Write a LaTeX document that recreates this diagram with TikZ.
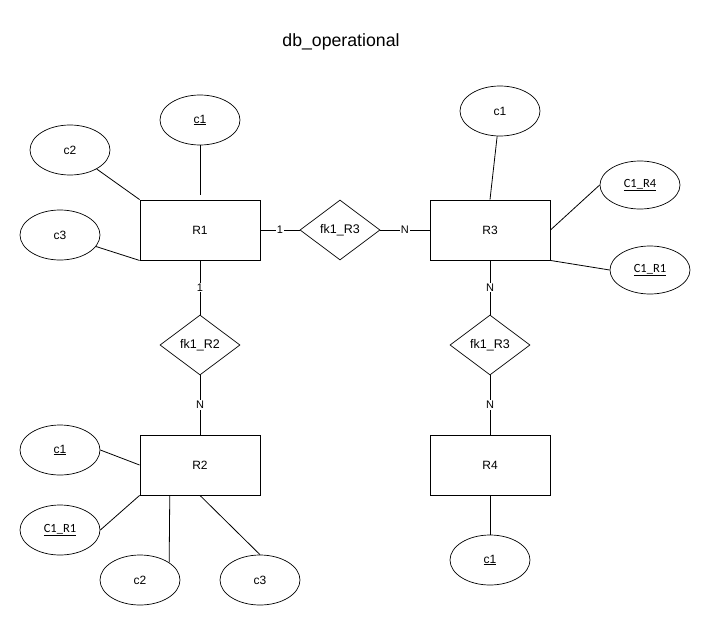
\documentclass[tikz,border=0pt]{standalone}
\usepackage{fontspec}
\setmainfont{Liberation Sans}
\newfontfamily\keyfont{Carlito}
\usetikzlibrary{shapes.geometric,calc}
\begin{document}
\begin{tikzpicture}[x=1pt,y=-1pt,
  line width=0.9pt,
  every node/.style={font=\fontsize{12}{14}\selectfont},
  entity/.style={draw,rectangle,minimum width=120pt,minimum height=60pt,inner sep=0pt},
  attr/.style={draw,ellipse,minimum width=80pt,minimum height=50pt,inner sep=0pt,line width=0.7pt},
  fkattr/.style={attr,font=\keyfont\fontsize{12.5}{14}\selectfont},
  rel/.style={draw,diamond,minimum width=80pt,minimum height=60pt,inner sep=0pt,line width=0.7pt,font=\fontsize{12.5}{14}\selectfont},
  card/.style={fill=white,inner sep=1pt,font=\fontsize{11}{13}\selectfont},
  link/.style={line width=0.8pt}]
\useasboundingbox (0,0) rectangle (711,626);

\node (title) at (341,42) {\fontsize{17.7}{21}\selectfont db\_operational};

% entities
\node[entity] (R1) at (200,230) {R1};
\node[entity] (R2) at (200,465) {R2};
\node[entity] (R3) at (490,230) {R3};
\node[entity] (R4) at (490,465) {R4};

% relationships
\node[rel] (d13) at (340,230) {fk1\_R3};
\node[rel] (d12) at (200,345) {fk1\_R2};
\node[rel] (d34) at (490,345) {fk1\_R3};

% attributes of R1
\node[attr] (R1a) at (200,120) {\underline{c1}};
\node[attr] (R1b) at (70,150) {c2};
\node[attr] (R1c) at (60,235) {c3};

% attributes of R3
\node[attr] (R3a) at (500,111) {c1};
\node[fkattr,minimum height=48pt] (R3b) at (640,185) {\underline{C1\_R4}};
\node[fkattr,minimum height=48pt] (R3c) at (650,270) {\underline{C1\_R1}};

% attributes of R2
\node[attr] (R2a) at (60,450) {\underline{c1}};
\node[fkattr] (R2b) at (60,530) {\underline{C1\_R1}};
\node[attr] (R2c) at (140,580) {c2};
\node[attr] (R2d) at (260,580) {c3};

% attribute of R4
\node[attr] (R4a) at (490,560) {\underline{c1}};

% attribute links
\draw[link] (R1a) -- ($(R1.north)+(0,-5)$);
\draw[link] (R1b) -- (R1.north west);
\draw[link] (R1c) -- (R1.south west);
\draw[link] (R3a) -- (R3.north);
\draw[link] (R3b.west) -- (R3.east);
\draw[link] (R3c.west) -- (R3.south east);
\draw[link] (R2a.east) -- (R2.west);
\draw[link] (R2b.east) -- (R2.south west);
\draw[link] (R2c.31) -- ($(R2.south west)!0.25!(R2.south east)$);
\draw[link] (R2d.north) -- (R2.south);
\draw[link] (R4.south) -- (R4a.north);

% relationship links with cardinalities
\draw[link] (R1.east) -- node[card]{1} (d13.west);
\draw[link] (d13.east) -- node[card]{N} (R3.west);
\draw[link] (R1.south) -- node[card]{1} (d12.north);
\draw[link] (d12.south) -- node[card]{N} (R2.north);
\draw[link] (R3.south) -- node[card]{N} (d34.north);
\draw[link] (d34.south) -- node[card]{N} (R4.north);
\end{tikzpicture}
\end{document}
